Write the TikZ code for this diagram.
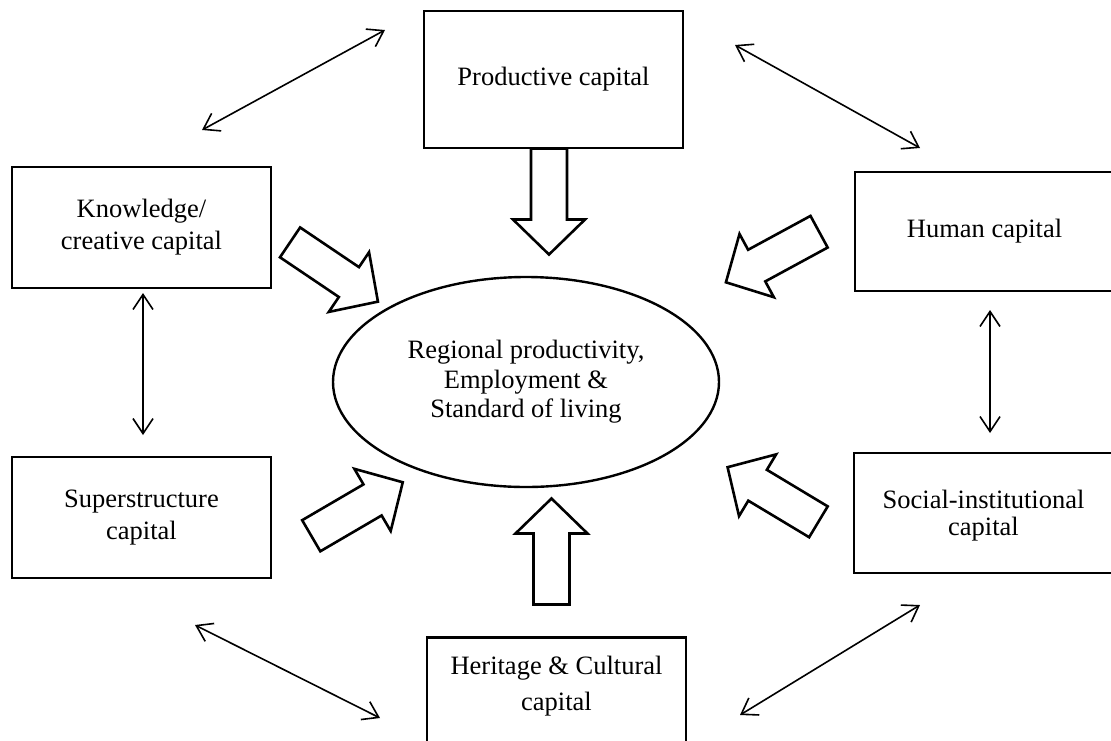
\documentclass[tikz,border=0pt]{standalone}
\usepackage{fontspec}
\setmainfont{Liberation Serif}
\usetikzlibrary{arrows.meta,shapes.geometric}
\begin{document}
\begin{tikzpicture}[x=1pt,y=-1pt,
  capbox/.style={draw, line width=2.6pt, minimum width=259pt, inner sep=0pt,
    align=center, font=\fontsize{26.5}{32}\selectfont},
  link/.style={line width=1.6pt,
    {Straight Barb[length=15pt,width=20pt]}-{Straight Barb[length=15pt,width=20pt]}},
  pics/blockarrow/.style={code={
    \draw[line width=2.6pt, line join=miter, fill=white]
      (-53,-18) -- (18,-18) -- (18,-36) -- (53,0) -- (18,36) -- (18,18) -- (-53,18) -- cycle;}}
]
\useasboundingbox (0,0) rectangle (1111,740);
\clip (0,0) rectangle (1111,740);

% central outcome
\node[ellipse, draw, line width=2.4pt, minimum width=386pt, minimum height=210pt,
  inner sep=0pt, align=center, font=\fontsize{26.5}{29.5}\selectfont]
  (core) at (526,382) {Regional productivity,\\Employment \&\\Standard of living};

% forms of capital
\node[capbox, minimum height=137pt] (prod) at (553.5,79.5) {Productive capital};
\node[capbox, minimum height=121pt] (know) at (141.5,227.5) {Knowledge/\\creative capital};
\node[capbox, minimum height=119pt] (human) at (984.5,231.5) {Human capital};
\node[capbox, minimum height=121pt] (super) at (141.5,517.5) {Superstructure\\capital};
\node[capbox, minimum height=120pt, font=\fontsize{26.5}{27}\selectfont, text depth=0pt]
  (social) at (983.5,513) {Social-institutional\\capital};
\node[capbox, minimum height=140pt, anchor=north] (herit) at (556.5,636) {};
\node[align=center, inner sep=0pt, font=\fontsize{26.5}{36}\selectfont]
  (herittext) at (556.5,686) {Heritage \& Cultural\\capital};

% block arrows feeding the outcome
\pic[rotate=-34]    at (334,272)     {blockarrow};
\pic[rotate=-90]    at (549,201.5)   {blockarrow};
\pic[rotate=208.5]  at (772.5,257)   {blockarrow};
\pic[rotate=30.3]   at (357,509)     {blockarrow};
\pic[rotate=149]    at (773,494.5)   {blockarrow};
\pic[rotate=90]     at (551.5,551.5) {blockarrow};

% two-way links between neighbouring capitals
\coordinate (tlA) at (202,130);  \coordinate (tlB) at (385,30);
\coordinate (trA) at (735,45);   \coordinate (trB) at (920,148);
\coordinate (lA)  at (143,293);  \coordinate (lB)  at (143,435);
\coordinate (rA)  at (990,310);  \coordinate (rB)  at (990,433);
\coordinate (blA) at (195,625);  \coordinate (blB) at (380,718);
\coordinate (brA) at (740,715);  \coordinate (brB) at (920,605);

\draw[link] (tlA) -- (tlB);
\draw[link] (trA) -- (trB);
\draw[link] (lA) -- (lB);
\draw[link] (rA) -- (rB);
\draw[link] (blA) -- (blB);
\draw[link] (brA) -- (brB);
\end{tikzpicture}
\end{document}
